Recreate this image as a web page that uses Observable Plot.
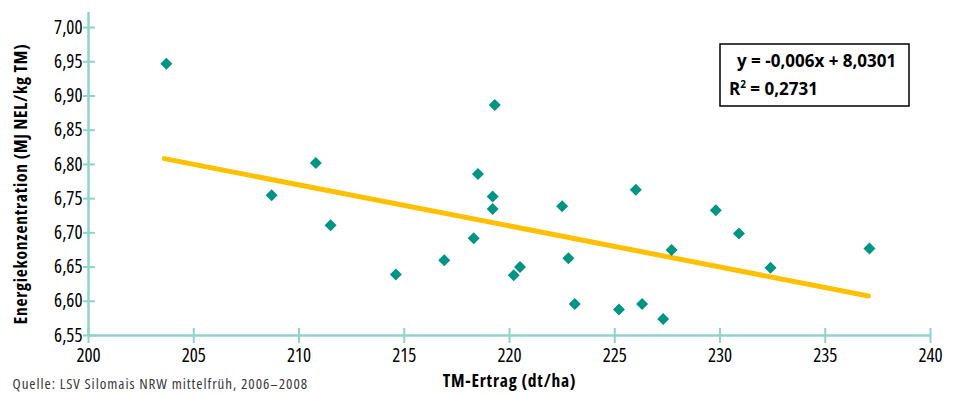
<!DOCTYPE html>
<html>
<head>
<meta charset="utf-8">
<script src="https://cdn.jsdelivr.net/npm/d3@7"></script>
<script src="https://cdn.jsdelivr.net/npm/@observablehq/plot@0.6"></script>
<style>
  html, body { margin: 0; padding: 0; background: white; }
  #chart { position: relative; width: 958px; height: 396px; }
  svg text { font-stretch: 75%; }
  svg .legendbox text { font-stretch: 100%; }
</style>
</head>
<body>
<div id="chart"></div>
<script>
// Data
const ertrag = [203.7, 208.7, 210.8, 211.5, 214.6, 216.9, 218.3, 218.5, 219.2, 219.2, 219.3, 220.2, 220.5, 222.5, 222.8, 223.1, 225.2, 226.0, 226.3, 227.3, 227.7, 229.8, 230.9, 232.4, 237.1];
const energie = [6.947, 6.755, 6.802, 6.711, 6.639, 6.660, 6.692, 6.786, 6.753, 6.735, 6.887, 6.638, 6.650, 6.739, 6.663, 6.596, 6.588, 6.763, 6.596, 6.574, 6.675, 6.733, 6.699, 6.649, 6.677];
const xTicks = [200, 205, 210, 215, 220, 225, 230, 235, 240];
const yTicks = [6.55, 6.60, 6.65, 6.70, 6.75, 6.80, 6.85, 6.90, 6.95, 7.00];
const slope = -0.006;
const intercept = 8.0301;
const rSquared = "0,2731";
const trendX = [203.6, 237.05];

const points = ertrag.map((x, i) => ({x, y: energie[i]}));
const trend = trendX.map(x => ({x, y: slope * x + intercept}));

const axisColor = "#8fd3ca";
const fontMain = "'Open Sans', 'Noto Sans', sans-serif";
const fmtY = d => d.toFixed(2).replace(".", ",");

const chart = Plot.plot({
  width: 958,
  height: 396,
  marginLeft: 88,
  marginRight: 28,
  marginTop: 12,
  marginBottom: 61,
  style: {fontFamily: fontMain, background: "white", color: "black", overflow: "visible"},
  x: {domain: [200, 240], axis: null},
  y: {domain: [6.55, 7.022], axis: null},
  marks: [
    Plot.axisX({ticks: xTicks, tickSize: 8, tickPadding: 5, stroke: axisColor, strokeWidth: 2, fill: "black", fontSize: 19, label: null, tickFormat: d => String(d)}),
    Plot.axisX({ticks: xTicks, tickSize: 7, dy: -7, stroke: axisColor, strokeWidth: 2, label: null, tickFormat: () => ""}),
    Plot.axisY({ticks: yTicks, tickSize: 5, tickPadding: 1, stroke: axisColor, strokeWidth: 2, fill: "black", fontSize: 19, label: null, tickFormat: fmtY}),
    Plot.axisY({ticks: yTicks, tickSize: 7, dx: 7, stroke: axisColor, strokeWidth: 2, label: null, tickFormat: () => ""}),
    Plot.ruleX([200], {y1: 6.55, y2: 7.022, stroke: axisColor, strokeWidth: 2.5}),
    Plot.ruleY([6.55], {x1: 200, x2: 240, stroke: axisColor, strokeWidth: 2.5}),
    Plot.line(trend, {x: "x", y: "y", stroke: "#ffc000", strokeWidth: 5, strokeLinecap: "round"}),
    Plot.dot(points, {x: "x", y: "y", symbol: "diamond2", r: 5.4, fill: "#009583", stroke: null}),
    Plot.text(["Energiekonzentration (MJ NEL/kg TM)"], {frameAnchor: "left", textAnchor: "middle", dx: -67, dy: 10, rotate: -90, fontWeight: "bold", fontSize: 17.5, fill: "black"}),
    Plot.text(["TM-Ertrag (dt/ha)"], {frameAnchor: "bottom", textAnchor: "middle", dy: 51, fontWeight: "bold", fontSize: 17.5, fill: "black"}),
    Plot.text(["Quelle: LSV Silomais NRW mittelfrüh, 2006–2008"], {frameAnchor: "bottom-left", textAnchor: "start", dx: -76, dy: 53, fontSize: 15, fontWeight: 400, fill: "#3a3a3a"})
  ]
});

const svg = d3.select(chart);
// letter spacing to match the reference's semi-condensed typeface
svg.selectAll("text").filter(function() { return this.textContent === "TM-Ertrag (dt/ha)"; }).style("letter-spacing", "0.8px");
svg.selectAll("text").filter(function() { return this.textContent.startsWith("Energiekonzentration"); }).style("letter-spacing", "0.75px");
svg.selectAll("text").filter(function() { return this.textContent.startsWith("Quelle"); }).style("letter-spacing", "0.95px");

const box = svg.append("g").attr("class", "legendbox").attr("text-anchor", "start");
box.append("rect").attr("x", 720).attr("y", 44).attr("width", 189).attr("height", 62)
  .attr("fill", "white").attr("stroke", "black").attr("stroke-width", 1.5);
box.append("text").attr("x", 737).attr("y", 67)
  .attr("font-weight", "bold").attr("font-size", 17).attr("fill", "black")
  .text(`y = ${String(slope).replace(".", ",")}x + ${String(intercept).replace(".", ",")}`);
const r2 = box.append("text").attr("x", 729).attr("y", 95)
  .attr("font-weight", "bold").attr("font-size", 17).attr("fill", "black");
r2.append("tspan").text("R");
r2.append("tspan").attr("font-size", 10).attr("dy", -7).text("2");
r2.append("tspan").attr("dy", 7).text(" = " + rSquared);

document.getElementById("chart").appendChild(chart);
</script>
</body>
</html>
